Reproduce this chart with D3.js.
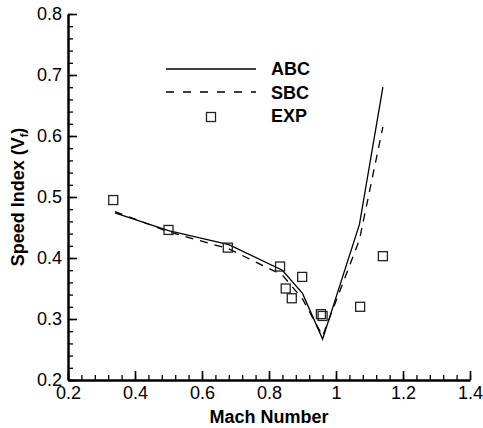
<!DOCTYPE html>
<meta charset="utf-8">
<style>
html, body { margin: 0; padding: 0; background: #fff; overflow: hidden; }
svg { display: block; }
text { font-family: Arial, "Liberation Sans", sans-serif; fill: #000; }
</style>
<svg width="483" height="428"></svg>
<script src="https://d3js.org/d3.v7.min.js"></script>
<script>

// dados
var mach = [0.34, 0.5, 0.68, 0.84, 0.9, 0.96, 1.07, 1.14];
var abc  = [0.474, 0.445, 0.422, 0.38, 0.342, 0.267, 0.455, 0.68];
var sbc  = [0.476, 0.443, 0.415, 0.372, 0.333, 0.272, 0.43, 0.615];

var expMach  = [0.335, 0.5, 0.677, 0.833, 0.85, 0.868, 0.899, 0.955, 0.96, 1.072, 1.14];
var expSpeed = [0.495, 0.446, 0.417, 0.386, 0.35, 0.334, 0.369, 0.308, 0.305, 0.32, 0.403];

var xTicks = [0.2, 0.4, 0.6, 0.8, 1.0, 1.2, 1.4];
var xTickLabels = ["0.2", "0.4", "0.6", "0.8", "1", "1.2", "1.4"];
var yTicks = [0.2, 0.3, 0.4, 0.5, 0.6, 0.7, 0.8];
var yTickLabels = ["0.2", "0.3", "0.4", "0.5", "0.6", "0.7", "0.8"];

var series = ["ABC", "SBC", "EXP"];

var svg = d3.select("svg");

var x = d3.scaleLinear().domain([0.2, 1.4]).range([68, 470]);
var y = d3.scaleLinear().domain([0.2, 0.8]).range([380, 14]);

// ticks menores
var xMinor = d3.range(0.2, 1.4001, 0.04);
var yMinor = d3.range(0.2, 0.8001, 0.02);

svg.append("g")
    .attr("transform", "translate(0,380)")
    .call(d3.axisBottom(x).tickValues(xMinor).tickSizeInner(-5).tickSizeOuter(0).tickFormat(""))
    .call(g => g.select(".domain").remove())
    .call(g => g.selectAll("line").attr("stroke", "#000").attr("stroke-width", 1.3));

svg.append("g")
    .attr("transform", "translate(68,0)")
    .call(d3.axisLeft(y).tickValues(yMinor).tickSizeInner(-5).tickSizeOuter(0).tickFormat(""))
    .call(g => g.select(".domain").remove())
    .call(g => g.selectAll("line").attr("stroke", "#000").attr("stroke-width", 1.3));

// eixos principais
var xAxis = svg.append("g")
    .attr("transform", "translate(0,380)")
    .call(d3.axisBottom(x).tickValues(xTicks).tickSizeInner(-9).tickSizeOuter(0).tickPadding(6)
      .tickFormat((d, i) => xTickLabels[i]));
xAxis.select(".domain").attr("stroke", "#000").attr("stroke-width", 2.5);
xAxis.selectAll("line").attr("stroke", "#000").attr("stroke-width", 1.6);
xAxis.selectAll("text").attr("font-size", 18).attr("fill", "#000").attr("dy", "0.74em");

var yAxis = svg.append("g")
    .attr("transform", "translate(68,0)")
    .call(d3.axisLeft(y).tickValues(yTicks).tickSizeInner(-9).tickSizeOuter(0).tickPadding(6)
      .tickFormat((d, i) => yTickLabels[i]));
yAxis.select(".domain").attr("stroke", "#000").attr("stroke-width", 2.5);
yAxis.selectAll("line").attr("stroke", "#000").attr("stroke-width", 1.6);
yAxis.selectAll("text").attr("font-size", 18).attr("fill", "#000");

// títulos
svg.append("text")
    .attr("x", 269).attr("y", 423)
    .attr("text-anchor", "middle")
    .attr("font-size", 18).attr("font-weight", "bold")
    .text("Mach Number");

var yt = svg.append("text")
    .attr("transform", "translate(24,197) rotate(-90)")
    .attr("text-anchor", "middle")
    .attr("font-size", 18).attr("font-weight", "bold");
yt.append("tspan").text("Speed Index (V");
yt.append("tspan").attr("font-size", 11).attr("dy", 4).text("f");
yt.append("tspan").attr("dy", -4).text(")");

// curvas
var line = d3.line().x((d, i) => x(mach[i])).y(d => y(d));

svg.append("path")
    .datum(abc)
    .attr("fill", "none").attr("stroke", "#000").attr("stroke-width", 1.3)
    .attr("d", line);

svg.append("path")
    .datum(sbc)
    .attr("fill", "none").attr("stroke", "#000").attr("stroke-width", 1.3)
    .attr("stroke-dasharray", "8,7")
    .attr("d", line);

// pontos experimentais
svg.append("g")
  .selectAll("rect")
  .data(expMach)
  .enter()
  .append("rect")
    .attr("x", (d) => x(d) - 4.5)
    .attr("y", (d, i) => y(expSpeed[i]) - 4.5)
    .attr("width", 9).attr("height", 9)
    .attr("fill", "none").attr("stroke", "#222").attr("stroke-width", 1.3);

// legenda
var leg = svg.append("g");
leg.append("line").attr("x1", 166).attr("x2", 256).attr("y1", 69).attr("y2", 69)
    .attr("stroke", "#000").attr("stroke-width", 1.3);
leg.append("line").attr("x1", 166).attr("x2", 256).attr("y1", 92).attr("y2", 92)
    .attr("stroke", "#000").attr("stroke-width", 1.3).attr("stroke-dasharray", "8,9");
leg.append("rect").attr("x", 206.5).attr("y", 112.5).attr("width", 9).attr("height", 9)
    .attr("fill", "none").attr("stroke", "#222").attr("stroke-width", 1.3);
leg.selectAll("text.lab")
  .data(series)
  .enter()
  .append("text")
    .attr("class", "lab")
    .attr("x", 271)
    .attr("y", (d, i) => 75 + i * 23.5)
    .attr("font-size", 18).attr("font-weight", "bold")
    .text(d => d);

</script>
